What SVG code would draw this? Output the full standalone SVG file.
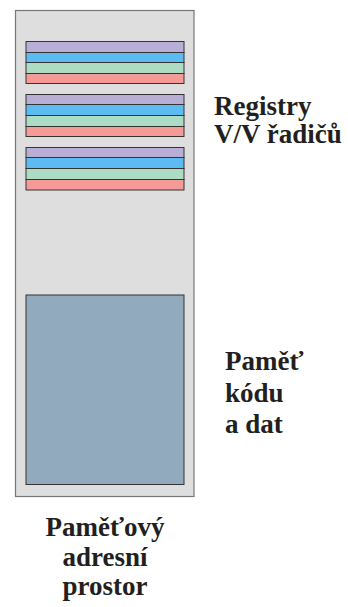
<svg xmlns="http://www.w3.org/2000/svg" width="348" height="607" viewBox="0 0 348 607">
<rect width="348" height="607" fill="#fff"/>
<g id="space">
<rect x="15.5" y="10.5" width="178.5" height="486" fill="#dedede" stroke="#777" stroke-width="1.2"/>
</g>
<g id="reg1" stroke="#333" stroke-width="1">
<rect fill="#b9aed5" x="26" y="41.5" width="158" height="11"/>
<rect fill="#5cbcf2" x="26" y="52.5" width="158" height="10"/>
<rect fill="#acdcc4" x="26" y="62.5" width="158" height="11"/>
<rect fill="#f59b97" x="26" y="73.5" width="158" height="10"/>
</g>
<g id="reg2" stroke="#333" stroke-width="1">
<rect fill="#b9aed5" x="26" y="94.5" width="158" height="10"/>
<rect fill="#5cbcf2" x="26" y="104.5" width="158" height="11"/>
<rect fill="#acdcc4" x="26" y="115.5" width="158" height="11"/>
<rect fill="#f59b97" x="26" y="126.5" width="158" height="10"/>
</g>
<g id="reg3" stroke="#333" stroke-width="1">
<rect fill="#b9aed5" x="26" y="147.5" width="158" height="10"/>
<rect fill="#5cbcf2" x="26" y="157.5" width="158" height="11"/>
<rect fill="#acdcc4" x="26" y="168.5" width="158" height="11"/>
<rect fill="#f59b97" x="26" y="179.5" width="158" height="10.5"/>
</g>
<g id="code">
<rect x="26" y="295" width="158" height="189.5" fill="#91aabe" stroke="#333" stroke-width="1"/>
</g>
<g id="labels" style="font-family:Tinos,'Liberation Serif','Times New Roman',serif;font-weight:bold;font-size:27px" fill="#231f20">
<text x="214" y="115">Registry</text>
<text x="214" y="143">V/V řadičů</text>
<text x="225" y="370">Paměť</text>
<text x="225" y="401.5">kódu</text>
<text x="225" y="433">a dat</text>
<text x="105" y="536" text-anchor="middle">Paměťový</text>
<text x="105" y="566" text-anchor="middle">adresní</text>
<text x="105" y="595" text-anchor="middle">prostor</text>
</g>
</svg>
